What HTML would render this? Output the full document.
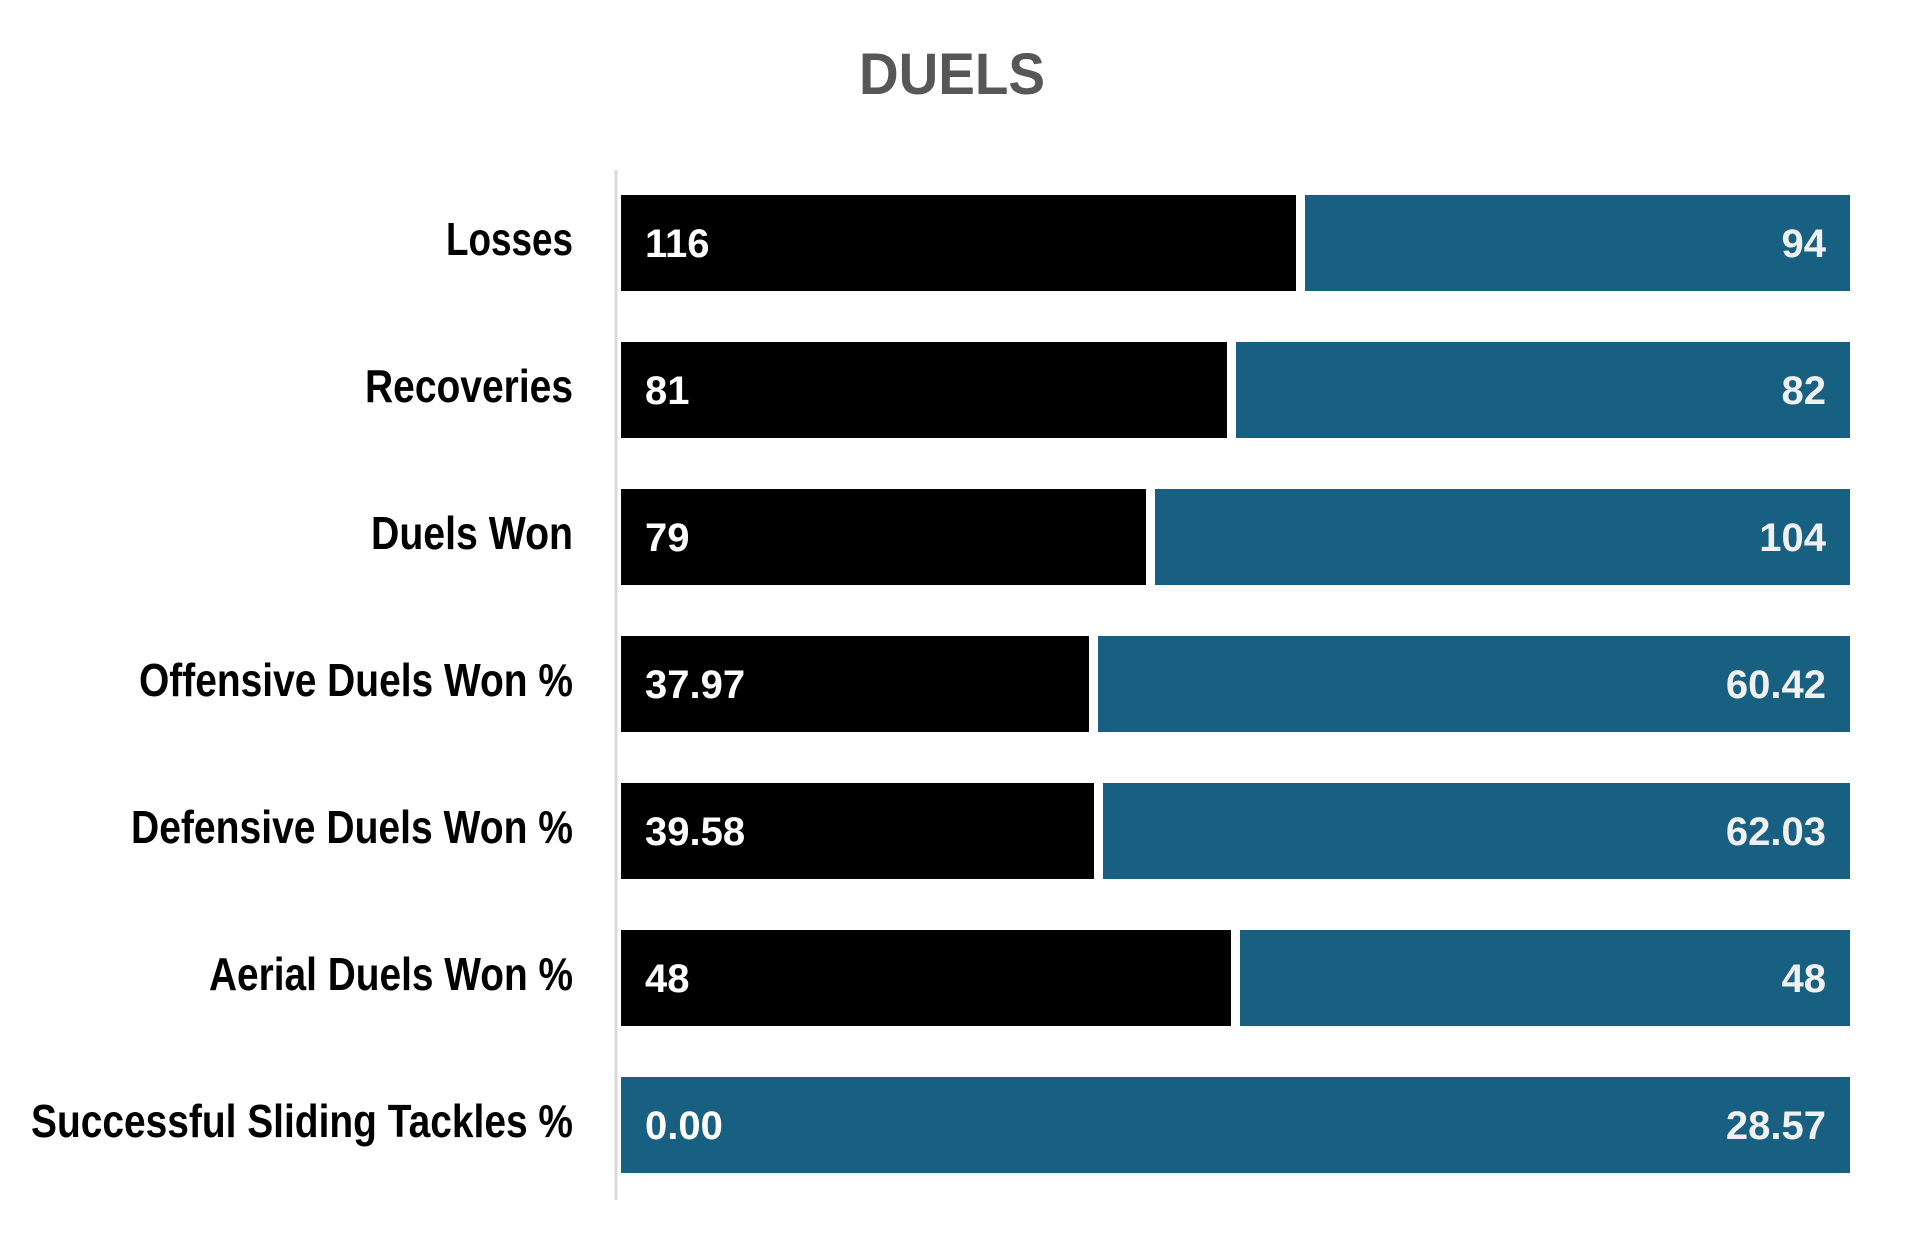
<!DOCTYPE html>
<html><head><meta charset="utf-8"><style>html,body{margin:0;padding:0;background:#fff}svg{display:block}</style></head>
<body>
<svg width="1905" height="1248" viewBox="0 0 1905 1248" xmlns="http://www.w3.org/2000/svg">
<rect width="1905" height="1248" fill="#fff"/>
<text x="952" y="94" text-anchor="middle" font-family="Liberation Sans, sans-serif" font-weight="bold" font-size="58" fill="#575757" textLength="186" lengthAdjust="spacingAndGlyphs">DUELS</text>
<line x1="616" y1="170" x2="616" y2="1200" stroke="#d9d9d9" stroke-width="3"/>
<g font-family="Liberation Sans Narrow, Liberation Sans, sans-serif" font-weight="bold" font-size="46" fill="#000" text-anchor="end">
<text x="573" y="255" textLength="127" lengthAdjust="spacingAndGlyphs">Losses</text>
<text x="573" y="402" textLength="208" lengthAdjust="spacingAndGlyphs">Recoveries</text>
<text x="573" y="549" textLength="202" lengthAdjust="spacingAndGlyphs">Duels Won</text>
<text x="573" y="696" textLength="434" lengthAdjust="spacingAndGlyphs">Offensive Duels Won %</text>
<text x="573" y="843" textLength="442" lengthAdjust="spacingAndGlyphs">Defensive Duels Won %</text>
<text x="573" y="990" textLength="364" lengthAdjust="spacingAndGlyphs">Aerial Duels Won %</text>
<text x="573" y="1137" textLength="542" lengthAdjust="spacingAndGlyphs">Successful Sliding Tackles %</text>
</g>
<g>
<rect x="621" y="195" width="675" height="96" fill="#000"/><rect x="1305" y="195" width="545" height="96" fill="#176082"/>
<rect x="621" y="342" width="606" height="96" fill="#000"/><rect x="1236" y="342" width="614" height="96" fill="#176082"/>
<rect x="621" y="489" width="525" height="96" fill="#000"/><rect x="1155" y="489" width="695" height="96" fill="#176082"/>
<rect x="621" y="636" width="468" height="96" fill="#000"/><rect x="1098" y="636" width="752" height="96" fill="#176082"/>
<rect x="621" y="783" width="473" height="96" fill="#000"/><rect x="1103" y="783" width="747" height="96" fill="#176082"/>
<rect x="621" y="930" width="610" height="96" fill="#000"/><rect x="1240" y="930" width="610" height="96" fill="#176082"/>
<rect x="621" y="1077" width="1229" height="96" fill="#176082"/>
</g>
<g font-family="Liberation Sans, sans-serif" font-weight="bold" font-size="40" fill="#fff">
<text x="645" y="257">116</text>
<text x="645" y="404">81</text>
<text x="645" y="551">79</text>
<text x="645" y="698">37.97</text>
<text x="645" y="845">39.58</text>
<text x="645" y="992">48</text>
<text x="645" y="1139">0.00</text>
</g>
<g font-family="Liberation Sans, sans-serif" font-weight="bold" font-size="40" fill="#f0f0f0" text-anchor="end">
<text x="1826" y="257">94</text>
<text x="1826" y="404">82</text>
<text x="1826" y="551">104</text>
<text x="1826" y="698">60.42</text>
<text x="1826" y="845">62.03</text>
<text x="1826" y="992">48</text>
<text x="1826" y="1139">28.57</text>
</g>
</svg>
</body></html>
